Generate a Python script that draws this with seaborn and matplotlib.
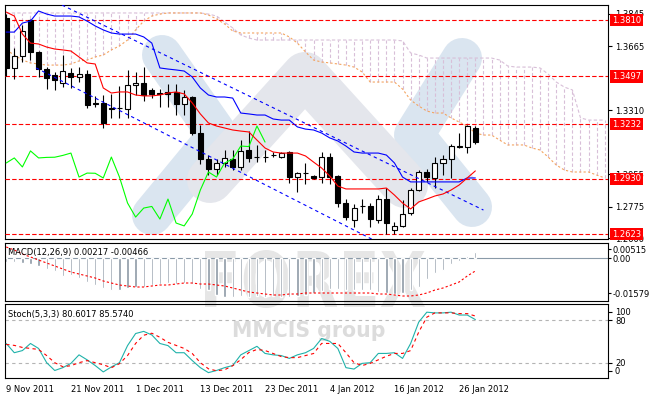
import numpy as np
import matplotlib
matplotlib.use("Agg")
import matplotlib.pyplot as plt
import seaborn as sns
from matplotlib.transforms import blended_transform_factory, Affine2D
from matplotlib.textpath import TextPath
from matplotlib.patches import PathPatch
from matplotlib.font_manager import FontProperties

# ---------------- data ----------------
date_labels = ['9 Nov 2011', '21 Nov 2011', '1 Dec 2011', '13 Dec 2011',
               '23 Dec 2011', '4 Jan 2012', '16 Jan 2012', '26 Jan 2012']
date_bars = [0, 8, 16, 24, 32, 40, 48, 56]

opens = [1.3821, 1.3544, 1.3610, 1.3810, 1.3633, 1.3538, 1.3505, 1.3461, 1.3516, 1.3494,
         1.3510, 1.3350, 1.3350, 1.3322, 1.3322, 1.3316, 1.3450, 1.3461, 1.3422, 1.3405,
         1.3411, 1.3411, 1.3344, 1.3383, 1.3183, 1.3039, 1.2984, 1.3017, 1.3039, 1.2995,
         1.3089, 1.3050, 1.3050, 1.3061, 1.3050, 1.3078, 1.2939, 1.2961, 1.2945, 1.2939,
         1.3050, 1.2945, 1.2795, 1.2701, 1.2778, 1.2778, 1.2701, 1.2817, 1.2645, 1.2668,
         1.2740, 1.2867, 1.2967, 1.2934, 1.3017, 1.3039, 1.3111, 1.3106, 1.3211]
highs = [1.3843, 1.3655, 1.3782, 1.3816, 1.3638, 1.3549, 1.3522, 1.3616, 1.3544, 1.3549,
         1.3533, 1.3389, 1.3394, 1.3400, 1.3444, 1.3533, 1.3522, 1.3549, 1.3433, 1.3427,
         1.3455, 1.3455, 1.3422, 1.3389, 1.3228, 1.3061, 1.3039, 1.3089, 1.3089, 1.3144,
         1.3194, 1.3117, 1.3089, 1.3078, 1.3078, 1.3084, 1.2967, 1.3017, 1.2950, 1.3078,
         1.3072, 1.2950, 1.2817, 1.2790, 1.2817, 1.2795, 1.2839, 1.2878, 1.2690, 1.2812,
         1.2878, 1.2978, 1.2984, 1.3050, 1.3061, 1.3122, 1.3183, 1.3228, 1.3222]
lows = [1.3499, 1.3483, 1.3577, 1.3588, 1.3494, 1.3427, 1.3422, 1.3438, 1.3433, 1.3466,
        1.3322, 1.3327, 1.3211, 1.3267, 1.3267, 1.3267, 1.3394, 1.3361, 1.3377, 1.3327,
        1.3327, 1.3283, 1.3283, 1.3172, 1.3011, 1.2950, 1.2950, 1.2995, 1.2978, 1.2978,
        1.3022, 1.3022, 1.3022, 1.3050, 1.3045, 1.2906, 1.2856, 1.2900, 1.2928, 1.2906,
        1.2900, 1.2773, 1.2701, 1.2662, 1.2740, 1.2662, 1.2684, 1.2623, 1.2623, 1.2662,
        1.2729, 1.2862, 1.2911, 1.2878, 1.2950, 1.2934, 1.3100, 1.3072, 1.3122]
closes = [1.3544, 1.3610, 1.3749, 1.3633, 1.3538, 1.3488, 1.3477, 1.3527, 1.3494, 1.3510,
          1.3339, 1.3344, 1.3239, 1.3319, 1.3320, 1.3450, 1.3463, 1.3394, 1.3400, 1.3402,
          1.3402, 1.3344, 1.3383, 1.3183, 1.3039, 1.2984, 1.3017, 1.3045, 1.2995, 1.3084,
          1.3045, 1.3048, 1.3049, 1.3059, 1.3072, 1.2939, 1.2961, 1.2960, 1.2934, 1.3050,
          1.2939, 1.2795, 1.2717, 1.2767, 1.2776, 1.2706, 1.2817, 1.2684, 1.2668, 1.2734,
          1.2867, 1.2967, 1.2939, 1.3017, 1.3039, 1.3111, 1.3108, 1.3222, 1.3133]

tenkan = [1.3854, 1.3832, 1.3732, 1.3682, 1.3677, 1.3660, 1.3649, 1.3644, 1.3638, 1.3605,
          1.3572, 1.3566, 1.3433, 1.3405, 1.3411, 1.3411, 1.3394, 1.3389, 1.3389, 1.3394,
          1.3405, 1.3411, 1.3400, 1.3350, 1.3289, 1.3239, 1.3222, 1.3211, 1.3200, 1.3194,
          1.3189, 1.3144, 1.3100, 1.3078, 1.3072, 1.3072, 1.3072, 1.3056, 1.3022, 1.2989,
          1.2945, 1.2889, 1.2873, 1.2873, 1.2873, 1.2873, 1.2873, 1.2878, 1.2839, 1.2795,
          1.2762, 1.2801, 1.2817, 1.2834, 1.2845, 1.2867, 1.2895, 1.2934, 1.2973]
kijun = [1.3743, 1.3743, 1.3793, 1.3804, 1.3860, 1.3843, 1.3832, 1.3832, 1.3832, 1.3827,
         1.3804, 1.3777, 1.3755, 1.3738, 1.3732, 1.3732, 1.3732, 1.3716, 1.3682, 1.3544,
         1.3538, 1.3533, 1.3527, 1.3494, 1.3433, 1.3394, 1.3383, 1.3383, 1.3377, 1.3294,
         1.3289, 1.3283, 1.3283, 1.3261, 1.3255, 1.3255, 1.3217, 1.3205, 1.3200, 1.3183,
         1.3156, 1.3139, 1.3111, 1.3078, 1.3072, 1.3072, 1.3072, 1.3061, 1.3017, 1.2939,
         1.2912, 1.2912, 1.2912, 1.2912, 1.2912, 1.2912, 1.2912, 1.2934, 1.2934]
senkou_a = [1.3644, 1.3616, 1.3588, 1.3572, 1.3566, 1.3560, 1.3560, 1.3560, 1.3566, 1.3583,
            1.3588, 1.3605, 1.3616, 1.3644, 1.3666, 1.3699, 1.3755, 1.3804, 1.3832, 1.3843,
            1.3849, 1.3849, 1.3849, 1.3849, 1.3849, 1.3838, 1.3816, 1.3788, 1.3749, 1.3738,
            1.3738, 1.3738, 1.3738, 1.3738, 1.3738, 1.3716, 1.3682, 1.3633, 1.3588, 1.3577,
            1.3572, 1.3566, 1.3560, 1.3549, 1.3522, 1.3466, 1.3466, 1.3466, 1.3466, 1.3427,
            1.3366, 1.3333, 1.3305, 1.3294, 1.3294, 1.3267, 1.3244, 1.3222, 1.3183, 1.3172,
            1.3172, 1.3144, 1.3117, 1.3117, 1.3117, 1.3100, 1.3089, 1.3050, 1.3006, 1.2978,
            1.2967, 1.2967, 1.2967, 1.2950, 1.2934]
senkou_b = [1.3849, 1.3849, 1.3849, 1.3849, 1.3849, 1.3849, 1.3849, 1.3849, 1.3849, 1.3849,
            1.3849, 1.3849, 1.3849, 1.3849, 1.3849, 1.3849, 1.3849, 1.3849, 1.3849, 1.3849,
            1.3849, 1.3849, 1.3849, 1.3849, 1.3849, 1.3843, 1.3832, 1.3799, 1.3766, 1.3727,
            1.3710, 1.3699, 1.3699, 1.3699, 1.3699, 1.3699, 1.3699, 1.3699, 1.3699, 1.3699,
            1.3699, 1.3699, 1.3699, 1.3699, 1.3699, 1.3699, 1.3699, 1.3699, 1.3699, 1.3694,
            1.3627, 1.3616, 1.3599, 1.3599, 1.3599, 1.3599, 1.3599, 1.3599, 1.3599, 1.3599,
            1.3599, 1.3588, 1.3555, 1.3549, 1.3549, 1.3549, 1.3544, 1.3510, 1.3466, 1.3438,
            1.3422, 1.3267, 1.3255, 1.3255, 1.3255]
chikou_shift = 26

levels = [1.3810, 1.3497, 1.3232, 1.2930, 1.2623]
price_ticks = [1.3845, 1.3665, 1.3310, 1.2955, 1.2775, 1.2600]

channel_upper_bars = [6.9, 59.0]
channel_upper_prices = [1.3893, 1.2756]
channel_lower_bars = [3.7, 45.4]
channel_lower_prices = [1.3544, 1.2590]

macd_hist = [-0.00136, -0.00136, -0.00173, -0.00210, -0.00283, -0.00394, -0.00467, -0.00651, -0.00615, -0.00725,
             -0.00872, -0.00983, -0.01093, -0.01167, -0.01167, -0.01093, -0.01056, -0.01056, -0.00983, -0.00946,
             -0.00909, -0.00946, -0.00909, -0.00946, -0.01130, -0.01167, -0.01350, -0.01424, -0.01424, -0.01387,
             -0.01424, -0.01387, -0.01424, -0.01387, -0.01424, -0.01424, -0.01387, -0.01350, -0.01277, -0.01203,
             -0.01130, -0.01130, -0.01167, -0.01167, -0.01167, -0.01167, -0.01240, -0.01277, -0.01314, -0.01277,
             -0.01167, -0.01056, -0.00762, -0.00541, -0.00431, -0.00210, -0.00099, 0.00085, 0.00217]
macd_signal = [0.00416, 0.00305, 0.00158, 0.00048, -0.00063, -0.00173, -0.00283, -0.00394, -0.00504, -0.00578,
               -0.00651, -0.00725, -0.00835, -0.00909, -0.00983, -0.01019, -0.01056, -0.01056, -0.01019, -0.00983,
               -0.00983, -0.00946, -0.00909, -0.00909, -0.00946, -0.00946, -0.00983, -0.01019, -0.01093, -0.01167,
               -0.01240, -0.01277, -0.01314, -0.01350, -0.01350, -0.01314, -0.01314, -0.01277, -0.01277, -0.01277,
               -0.01277, -0.01277, -0.01277, -0.01277, -0.01277, -0.01277, -0.01314, -0.01314, -0.01350, -0.01387,
               -0.01387, -0.01350, -0.01277, -0.01167, -0.01093, -0.00983, -0.00872, -0.00651, -0.00466]
macd_tick_labels = ['0.00515', '0.00', '-0.01579']

stoch_k = [47, 34, 37, 47, 40, 20, 9, 13, 19, 31, 24, 16, 7, 14, 20, 44, 61, 64, 59, 47,
           44, 34, 34, 23, 13, 6, 9, 13, 16, 31, 37, 43, 33, 31, 30, 26, 31, 34, 40, 54,
           50, 40, 13, 11, 19, 20, 33, 33, 34, 26, 47, 77, 91, 90, 90, 91, 87, 87, 80.6]
stoch_d = [45.7, 44.3, 41.4, 40, 38.6, 30, 20, 14.3, 15.7, 20, 22.9, 20, 17.1, 12.9, 18.6, 30, 47.1, 58.6, 61.4, 55.7,
           48.6, 44.3, 40, 32.9, 20, 11.4, 8.6, 10, 15.7, 24.3, 34.3, 38.6, 37.1, 32.9, 28.6, 27.1, 27.1, 30, 32.9, 47.1,
           47, 47, 34, 20, 16, 19, 24, 29, 33, 33, 37, 63, 84, 90, 90, 90, 89, 89, 85.6]
stoch_levels = [80, 20]
stoch_tick_labels = ['100', '80', '20', '0']

macd_title = 'MACD(12,26,9) 0.00217 -0.00466'
stoch_title = 'Stoch(5,3,3) 80.6017 85.5740'

# ---------------- style ----------------
sns.set_style("white")
plt.rcParams.update({
    'font.family': ['DejaVu Sans'],
    'font.size': 6,
    'text.color': 'black',
    'axes.edgecolor': 'black',
    'xtick.color': 'black',
    'ytick.color': 'black',
    'axes.linewidth': 0.8,
})

W, H = 650, 398
fig = plt.figure(figsize=(W / 100, H / 100), dpi=100)
fig.patch.set_facecolor('white')

# background watermark layer (pixel coordinates)
bg = fig.add_axes([0, 0, 1, 1], zorder=-10)
bg.set_xlim(0, W)
bg.set_ylim(H, 0)
bg.axis('off')
wm_blue = '#dae5f0'
wm_gray = '#e4e6ec'
band = 40 * 0.72
bg.plot([162, 218, 152], [55, 135, 215], color=wm_blue, lw=band,
        solid_capstyle='round', solid_joinstyle='round', zorder=1)
bg.plot([462, 414, 472], [58, 135, 207], color=wm_blue, lw=band,
        solid_capstyle='round', solid_joinstyle='round', zorder=1)
bg.plot([210, 305, 405], [180, 75, 185], color=wm_gray, lw=46 * 0.72,
        solid_capstyle='round', solid_joinstyle='round', zorder=2)
fp = FontProperties(family='DejaVu Sans', weight='bold')
tp = TextPath((0, 0), 'FOREX', size=1, prop=fp)
ext = tp.get_extents()
tr = Affine2D().translate(-ext.x0, -ext.y0).scale(220 / ext.width, -58 / ext.height).translate(205, 308)
bg.add_patch(PathPatch(tr.transform_path(tp), fc='#e6e6e6', ec='none', zorder=3))
bg.text(232, 337, 'MMCIS group', fontsize=14.8, fontweight='bold', color='#dcdcdc',
        va='baseline', ha='left', zorder=3)


def panel(top, bottom, left=5, right=608):
    a = fig.add_axes([left / W, 1 - bottom / H, (right - left) / W, (bottom - top) / H])
    a.set_facecolor('none')
    for s in a.spines.values():
        s.set_color('black')
        s.set_linewidth(0.8)
    return a


n = len(closes)
bars = np.arange(n)
xlim = (-0.15, 74.4)
thin = 0.8

# ---------------- main price panel ----------------
ax = panel(5, 239)
ax.set_xlim(*xlim)
ax.set_ylim(1.25954, 1.38932)

fb = np.arange(len(senkou_a))
sa = np.array(senkou_a)
sb = np.array(senkou_b)
ax.vlines(fb, np.minimum(sa, sb), np.maximum(sa, sb), colors='#d8bfd8',
          linestyles=(0, (3, 2)), lw=thin, zorder=1)
sns.lineplot(x=fb, y=sb, ax=ax, color='#d8bfd8', linewidth=thin, linestyle=(0, (3, 2)),
             sort=False, errorbar=None, zorder=2)
sns.lineplot(x=fb, y=sa, ax=ax, color='#f4a460', linewidth=thin, linestyle=(0, (2, 2)),
             sort=False, errorbar=None, zorder=2)

for lv in levels:
    ax.axhline(lv, color='red', lw=thin, ls=(0, (4, 2)), zorder=3)

o = np.array(opens); c = np.array(closes)
up = c >= o
ax.vlines(bars, lows, highs, color='black', lw=thin, zorder=4)
body_lo = np.minimum(o, c)
body_h = np.maximum(np.abs(c - o), 0.00008)
ax.bar(bars, body_h, bottom=body_lo, width=0.62,
       color=np.where(up, 'white', 'black'), edgecolor='black', linewidth=thin, zorder=5)

sns.lineplot(x=channel_upper_bars, y=channel_upper_prices, ax=ax, color='blue',
             linewidth=thin, linestyle=(0, (3, 3)), sort=False, errorbar=None, zorder=6)
sns.lineplot(x=channel_lower_bars, y=channel_lower_prices, ax=ax, color='blue',
             linewidth=thin, linestyle=(0, (3, 3)), sort=False, errorbar=None, zorder=6)

sns.lineplot(x=bars[:n - chikou_shift], y=closes[chikou_shift:], ax=ax, color='#00ff00',
             linewidth=thin, sort=False, errorbar=None, zorder=7)
sns.lineplot(x=bars, y=kijun, ax=ax, color='blue', linewidth=thin, sort=False, errorbar=None, zorder=7)
sns.lineplot(x=bars, y=tenkan, ax=ax, color='red', linewidth=thin, sort=False, errorbar=None, zorder=8)

ax.set_xticks([])
ax.set_xlabel('')
ax.set_ylabel('')
ax.yaxis.tick_right()
ax.set_yticks(price_ticks)
ax.set_yticklabels([f'{p:.4f}' for p in price_ticks])
ax.tick_params(axis='y', length=3, width=0.8, pad=2, labelsize=6, direction='out')
trans = blended_transform_factory(ax.transAxes, ax.transData)
for lv in levels:
    ax.text(1.0 + 4 / 603, lv, f'{lv:.4f}', transform=trans, ha='left', va='center',
            color='white', fontsize=6, zorder=20, clip_on=False,
            bbox=dict(boxstyle='square,pad=0.2', fc='red', ec='red', lw=0))

# ---------------- MACD panel ----------------
am = panel(243, 301)
am.set_xlim(*xlim)
am.set_ylim(-0.01571, 0.00563)
am.axhline(0, color='#8a9aa8', lw=thin, zorder=1)
am.bar(bars, macd_hist, width=0.28, color='#8b97a4', zorder=2)
sns.lineplot(x=bars, y=macd_signal, ax=am, color='red', linewidth=thin, linestyle=(0, (2, 2)),
             sort=False, errorbar=None, zorder=3)
am.set_xticks([])
am.set_xlabel('')
am.set_ylabel('')
am.yaxis.tick_right()
am.set_yticks([0.00324, 0.0, -0.01277])
am.set_yticklabels(macd_tick_labels)
am.tick_params(axis='y', length=2, width=0.8, pad=1, labelsize=6, direction='out')
am.text(3 / 603, (301 - 252) / 58, macd_title, transform=am.transAxes, fontsize=6,
        ha='left', va='center', zorder=5)

# ---------------- Stochastic panel ----------------
st = panel(304, 378)
st.set_xlim(*xlim)
st.set_ylim(-1.55, 102.5)
for lv in stoch_levels:
    st.axhline(lv, color='#b4b4b4', lw=thin, ls=(0, (3, 3)), zorder=1)
sns.lineplot(x=bars, y=stoch_k, ax=st, color='#20b2aa', linewidth=thin, sort=False,
             errorbar=None, zorder=3)
sns.lineplot(x=bars, y=stoch_d, ax=st, color='red', linewidth=thin, linestyle=(0, (3, 3)),
             sort=False, errorbar=None, zorder=4)
st.set_xlabel('')
st.set_ylabel('')
st.yaxis.tick_right()
st.set_yticks([91.3, 80, 20, 8.3])
st.set_yticklabels(stoch_tick_labels)
st.tick_params(axis='y', length=3, width=0.8, pad=2, labelsize=6, direction='out')
st.set_xticks(date_bars)
st.set_xticklabels(date_labels, ha='left')
st.tick_params(axis='x', length=3, width=0.8, pad=2, labelsize=6, direction='out')
st.text(3 / 603, (378 - 314) / 74, stoch_title, transform=st.transAxes, fontsize=6,
        ha='left', va='center', zorder=5)

fig.savefig('out.png', dpi=100, facecolor='white')
